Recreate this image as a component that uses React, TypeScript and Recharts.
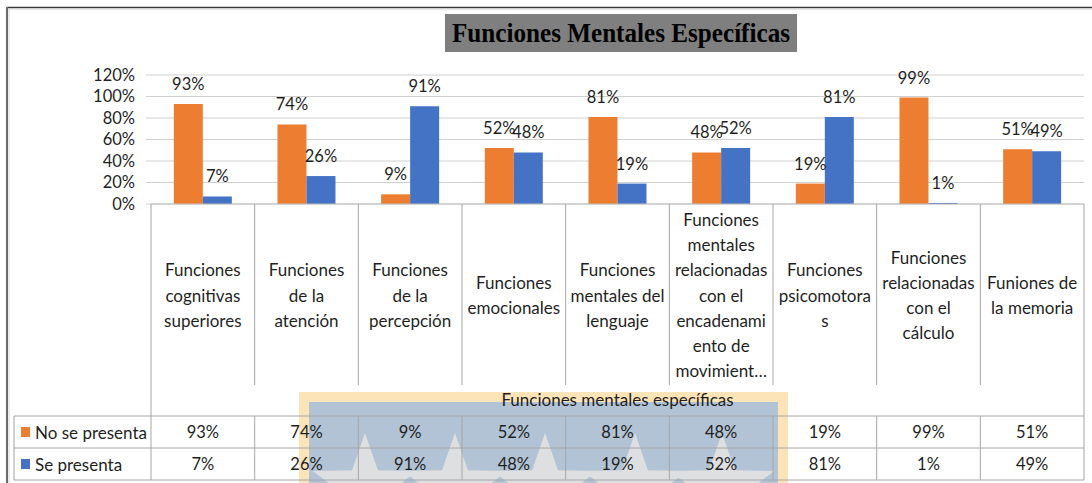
import React from 'react';
import { BarChart, Bar, XAxis, YAxis, CartesianGrid, LabelList } from 'recharts';

const categories = [
  'Funciones cognitivas superiores',
  'Funciones de la atención',
  'Funciones de la percepción',
  'Funciones emocionales',
  'Funciones mentales del lenguaje',
  'Funciones mentales relacionadas con el encadenamiento de movimiento',
  'Funciones psicomotoras',
  'Funciones relacionadas con el cálculo',
  'Funiones de la memoria',
];

const categoryLines: string[][] = [
  ['Funciones', 'cognitivas', 'superiores'],
  ['Funciones', 'de la', 'atención'],
  ['Funciones', 'de la', 'percepción'],
  ['Funciones', 'emocionales'],
  ['Funciones', 'mentales del', 'lenguaje'],
  ['Funciones', 'mentales', 'relacionadas', 'con el', 'encadenami', 'ento de', 'movimient…'],
  ['Funciones', 'psicomotora', 's'],
  ['Funciones', 'relacionadas', 'con el', 'cálculo'],
  ['Funiones de', 'la memoria'],
];

const noSePresenta = [93, 74, 9, 52, 81, 48, 19, 99, 51];
const sePresenta = [7, 26, 91, 48, 19, 52, 81, 1, 49];

const seriesNames = ['No se presenta', 'Se presenta'];
const yTicks = [0, 20, 40, 60, 80, 100, 120];

const chartTitle = 'Funciones Mentales Específicas';
const axisTitle = 'Funciones mentales específicas';

const data = categories.map((c, i) => ({
  name: c,
  no: noSePresenta[i],
  si: sePresenta[i],
}));

const ORANGE = '#ED7D31';
const BLUE = '#4472C4';
const LINE = '#a6a6a6';
const TEXT = '#1f1f1f';
const FONT = 'Lato, "Open Sans", sans-serif';

const W = 1092;
const H = 483;
const PLOT_LEFT = 151;
const PLOT_RIGHT = 1084;
const PLOT_TOP = 75;
const AXIS_Y = 204;
const Y_AXIS_W = 60;

const ROW1_TOP = 416;
const ROW2_TOP = 448;
const ROW_BOTTOM = 480;

const CategoryTick = (props: any) => {
  const { x, y, payload, index } = props;
  const n = categories.length;
  const half = payload && payload.offset ? payload.offset : (PLOT_RIGHT - PLOT_LEFT) / n / 2;
  const lines = categoryLines[index] || [];
  const lh = 25.2;
  const mid = y + 91;
  const last = index === n - 1;
  return (
    <g>
      {lines.map((l, i) => (
        <text
          key={i}
          x={x}
          y={mid + (i - (lines.length - 1) / 2) * lh}
          textAnchor="middle"
          dominantBaseline="central"
          fontSize={17}
          fontFamily={FONT}
          fill={TEXT}
        >
          {l}
        </text>
      ))}
      <text x={x} y={y + 228} textAnchor="middle" dominantBaseline="central" fontSize={16.5} fontFamily={FONT} fill={TEXT}>
        {noSePresenta[index]}%
      </text>
      <text x={x} y={y + 260} textAnchor="middle" dominantBaseline="central" fontSize={16.5} fontFamily={FONT} fill={TEXT}>
        {sePresenta[index]}%
      </text>
      {index === 0 && (
        <line x1={x - half} x2={x - half} y1={y} y2={y + (ROW_BOTTOM - AXIS_Y)} stroke={LINE} strokeWidth={1} />
      )}
      {last ? (
        <line x1={x + half} x2={x + half} y1={y} y2={y + (ROW_BOTTOM - AXIS_Y)} stroke={LINE} strokeWidth={1} />
      ) : (
        <g>
          <line x1={x + half} x2={x + half} y1={y} y2={y + 181} stroke={LINE} strokeWidth={1} />
          <line x1={x + half} x2={x + half} y1={y + (ROW1_TOP - AXIS_Y)} y2={y + (ROW_BOTTOM - AXIS_Y)} stroke={LINE} strokeWidth={1} />
        </g>
      )}
    </g>
  );
};

const star = (cx: number, cy: number, R: number, r: number) => {
  const pts: string[] = [];
  for (let i = 0; i < 10; i++) {
    const rad = i % 2 === 0 ? R : r;
    const a = -Math.PI / 2 + (i * Math.PI) / 5;
    pts.push(`${cx + rad * Math.cos(a)},${cy + rad * Math.sin(a)}`);
  }
  return pts.join(' ');
};

const starXs = [365, 455, 545, 635, 722];

export default function App() {
  return (
    <div
      style={{
        position: 'absolute',
        left: 0,
        top: 0,
        width: W,
        height: H,
        background: '#ffffff',
        overflow: 'hidden',
        fontFamily: FONT,
      }}
    >
      <svg width={W} height={H} style={{ position: 'absolute', left: 0, top: 0 }}>
        {/* frame */}
        <line x1={7} x2={W} y1={7.5} y2={7.5} stroke="#3a3a3a" strokeWidth={1.5} />
        <line x1={7} x2={W} y1={9} y2={9} stroke="#d0d0d0" strokeWidth={1} />
        <line x1={7} x2={7} y1={7} y2={H} stroke="#6a6a6a" strokeWidth={2} />
        <line x1={9} x2={9} y1={9} y2={H} stroke="#d8d8d8" strokeWidth={1} />
        {/* watermark */}
        <rect x={299} y={392} width={489} height={100} fill="#fde4b8" />
        <rect x={309} y={402} width={469} height={90} fill="#b1c3d4" />
        {starXs.map((sx, i) => (
          <polygon key={i} points={star(sx, 488, 55, 22)} fill="#dedfe0" />
        ))}
        {/* title */}
        <rect x={445} y={14} width={352} height={38} fill="#7f7f7f" />
        <text
          x={452}
          y={42}
          fontFamily='"Liberation Serif", "DejaVu Serif", serif'
          fontWeight="bold"
          fontSize={27}
          fill="#000"
          textLength={338}
          lengthAdjust="spacingAndGlyphs"
        >
          {chartTitle}
        </text>
        {/* data table lines */}
        <line x1={14} x2={PLOT_RIGHT} y1={ROW1_TOP} y2={ROW1_TOP} stroke={LINE} strokeWidth={1} />
        <line x1={14} x2={PLOT_RIGHT} y1={ROW2_TOP} y2={ROW2_TOP} stroke={LINE} strokeWidth={1} />
        <line x1={14} x2={PLOT_RIGHT} y1={ROW_BOTTOM} y2={ROW_BOTTOM} stroke={LINE} strokeWidth={1} />
        <line x1={14} x2={14} y1={ROW1_TOP} y2={ROW_BOTTOM} stroke={LINE} strokeWidth={1} />
        {/* legend keys */}
        <rect x={21} y={427} width={9} height={10} fill={ORANGE} />
        <text x={35} y={432} dominantBaseline="central" fontSize={17} fontFamily={FONT} fill={TEXT}>
          {seriesNames[0]}
        </text>
        <rect x={21} y={459} width={9} height={10} fill={BLUE} />
        <text x={35} y={464} dominantBaseline="central" fontSize={17} fontFamily={FONT} fill={TEXT}>
          {seriesNames[1]}
        </text>
        {/* axis title */}
        <text
          x={(PLOT_LEFT + PLOT_RIGHT) / 2}
          y={399}
          textAnchor="middle"
          dominantBaseline="central"
          fontSize={17}
          fontFamily={FONT}
          fill={TEXT}
        >
          {axisTitle}
        </text>
      </svg>
      <div style={{ position: 'absolute', left: 0, top: 0 }}>
        <BarChart
          width={W}
          height={H}
          data={data}
          margin={{ top: PLOT_TOP, right: W - PLOT_RIGHT, bottom: 0, left: PLOT_LEFT - Y_AXIS_W }}
          barCategoryGap="22%"
          barGap={0}
        >
          <CartesianGrid vertical={false} stroke="#d0d0d0" strokeWidth={1} />
          <XAxis
            dataKey="name"
            height={H - AXIS_Y}
            interval={0}
            tickSize={0}
            tickMargin={0}
            tickLine={false}
            axisLine={{ stroke: '#bfbfbf' }}
            tick={<CategoryTick />}
          />
          <YAxis
            width={Y_AXIS_W}
            domain={[0, 120]}
            ticks={yTicks}
            interval={0}
            axisLine={false}
            tickSize={5}
            tickMargin={11}
            tickLine={{ stroke: '#d0d0d0' }}
            tickFormatter={(v: number) => `${v}%`}
            tick={{ fontSize: 16.5, fontFamily: FONT, fill: TEXT }}
          />
          <Bar dataKey="no" name={seriesNames[0]} fill={ORANGE} isAnimationActive={false}>
            <LabelList
              dataKey="no"
              position="top"
              offset={14}
              formatter={(v: any) => `${v}%`}
              style={{ fontSize: 16.5, fontFamily: FONT, fill: TEXT }}
            />
          </Bar>
          <Bar dataKey="si" name={seriesNames[1]} fill={BLUE} isAnimationActive={false}>
            <LabelList
              dataKey="si"
              position="top"
              offset={14}
              formatter={(v: any) => `${v}%`}
              style={{ fontSize: 16.5, fontFamily: FONT, fill: TEXT }}
            />
          </Bar>
        </BarChart>
      </div>
    </div>
  );
}
